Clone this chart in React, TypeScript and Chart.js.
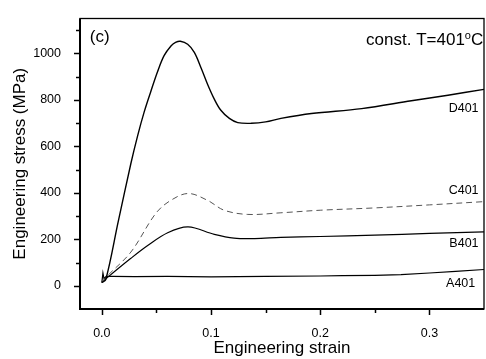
import { useEffect, useRef } from 'react';
import { Chart, registerables } from 'chart.js';

Chart.register(...registerables);

// ---- data ----
const dStrain = [0, 0.0037, 0.015, 0.0266, 0.0327, 0.0388, 0.045, 0.051, 0.057, 0.0633, 0.0675, 0.0719, 0.0786, 0.0847, 0.091, 0.097, 0.103, 0.109, 0.1168, 0.1245, 0.137, 0.15, 0.164, 0.192, 0.238, 0.2835, 0.317, 0.35];
const dStress = [14, 28, 276, 526, 644, 748, 838, 921, 990, 1032, 1047, 1052, 1039, 1004, 936, 865, 803, 755, 720, 702, 699, 705, 720, 741, 762, 796, 820, 845];

const cStrain = [0, 0.005, 0.0266, 0.0495, 0.063, 0.0792, 0.097, 0.112, 0.1337, 0.164, 0.2, 0.25, 0.3, 0.35];
const cStress = [14, 42, 145, 312, 367, 397, 367, 325, 307, 314, 325, 335, 348, 362];

const bStrain = [0, 0.005, 0.0266, 0.042, 0.0603, 0.079, 0.103, 0.121, 0.14, 0.164, 0.2, 0.25, 0.3, 0.35];
const bStress = [14, 35, 118, 173, 228, 253, 221, 205, 203, 208, 212, 218, 225, 232];

const aStrain = [0, 0.001, 0.002, 0.004, 0.01, 0.03, 0.06, 0.1, 0.15, 0.2, 0.22, 0.25, 0.274, 0.3, 0.324, 0.35];
const aStress = [14, 55, 30, 40, 40, 39, 40, 38, 40, 42, 44, 45, 48, 55, 62, 70];

const xTickValues = [0, 0.1, 0.2, 0.3];
const xMinorTicks = [0.05, 0.15, 0.25];
const yTickValues = [0, 200, 400, 600, 800, 1000];
const yMinorTicks = [100, 300, 500, 700, 900, 1100];

const seriesNames = ['D401', 'C401', 'B401', 'A401'];
const labelStrain = [0.345, 0.345, 0.345, 0.342];
const labelStress = [748, 396, 166, -7];

const panelLabel = '(c)';
const conditionText = 'const. T=401';

const FONT = "'Liberation Sans', Arial, sans-serif";

const pts = (xs: number[], ys: number[]) => xs.map((x, i) => ({ x, y: ys[i] }));

const framePlugin = {
  id: 'frameAndText',
  afterDraw(chart: any) {
    const { ctx, chartArea: a, scales } = chart;
    const xs = scales.x;
    const ys = scales.y;
    ctx.save();
    ctx.strokeStyle = '#000';
    ctx.lineWidth = 1.3;
    ctx.strokeRect(a.left, a.top, a.right - a.left, a.bottom - a.top);
    ctx.lineWidth = 2;
    ctx.beginPath();
    ctx.moveTo(a.left, a.top);
    ctx.lineTo(a.left, a.bottom);
    ctx.lineTo(a.right, a.bottom);
    ctx.stroke();

    const seg = (x1: number, y1: number, x2: number, y2: number) => {
      ctx.beginPath();
      ctx.moveTo(x1, y1);
      ctx.lineTo(x2, y2);
      ctx.stroke();
    };
    ctx.lineWidth = 1.5;
    xTickValues.forEach((v) => {
      const px = Math.round(xs.getPixelForValue(v)) + 0.5;
      seg(px, a.bottom, px, a.bottom + 6);
    });
    xMinorTicks.forEach((v) => {
      const px = Math.round(xs.getPixelForValue(v)) + 0.5;
      seg(px, a.bottom, px, a.bottom + 4);
    });
    yTickValues.forEach((v) => {
      const py = Math.round(ys.getPixelForValue(v)) + 0.5;
      seg(a.left, py, a.left - 6, py);
    });
    yMinorTicks.forEach((v) => {
      const py = Math.round(ys.getPixelForValue(v)) + 0.5;
      seg(a.left, py, a.left - 4, py);
    });

    // series labels
    ctx.fillStyle = '#000';
    ctx.font = `12.5px ${FONT}`;
    ctx.textAlign = 'right';
    ctx.textBaseline = 'alphabetic';
    seriesNames.forEach((n, i) => {
      ctx.fillText(n, xs.getPixelForValue(labelStrain[i]), ys.getPixelForValue(labelStress[i]));
    });

    // panel label
    ctx.font = `17px ${FONT}`;
    ctx.textAlign = 'left';
    ctx.fillText(panelLabel, xs.getPixelForValue(-0.011), ys.getPixelForValue(1047));

    // condition text with superscript o
    const rightX = xs.getPixelForValue(0.3493);
    const baseY = ys.getPixelForValue(1034);
    ctx.font = `17px ${FONT}`;
    const wC = ctx.measureText('C').width;
    ctx.fillText('C', rightX - wC, baseY);
    ctx.font = `11px ${FONT}`;
    const wO = ctx.measureText('o').width;
    ctx.fillText('o', rightX - wC - wO, baseY - 6.5);
    ctx.font = `17px ${FONT}`;
    ctx.textAlign = 'right';
    ctx.fillText(conditionText, rightX - wC - wO, baseY);
    ctx.restore();
  },
};

export default function App() {
  const ref = useRef<HTMLCanvasElement | null>(null);
  useEffect(() => {
    if (!ref.current) return;
    Chart.defaults.font.family = FONT;
    const chart = new Chart(ref.current, {
      type: 'scatter',
      data: {
        datasets: [
          { label: seriesNames[0], data: pts(dStrain, dStress), showLine: true, borderColor: '#000', borderWidth: 1.4, pointRadius: 0, tension: 0.35 },
          { label: seriesNames[1], data: pts(cStrain, cStress), showLine: true, borderColor: '#555', borderWidth: 1, borderDash: [6, 4], pointRadius: 0, tension: 0.35 },
          { label: seriesNames[2], data: pts(bStrain, bStress), showLine: true, borderColor: '#000', borderWidth: 1.2, pointRadius: 0, tension: 0.35 },
          { label: seriesNames[3], data: pts(aStrain, aStress), showLine: true, borderColor: '#000', borderWidth: 1.2, pointRadius: 0, tension: 0 },
        ],
      } as any,
      options: {
        animation: false,
        responsive: false,
        events: [],
        layout: { padding: { top: 9, right: 2, left: 0, bottom: 0 } },
        plugins: { legend: { display: false }, tooltip: { enabled: false } },
        scales: {
          x: {
            type: 'linear',
            min: -0.02,
            max: 0.35,
            grid: { display: false },
            border: { display: false },
            afterBuildTicks: (s: any) => { s.ticks = xTickValues.map((v) => ({ value: v })); },
            afterFit: (s: any) => { s.height = 50; },
            ticks: { color: '#000', font: { size: 12.5 }, padding: 9, maxRotation: 0, callback: (v: any) => Number(v).toFixed(1) },
            title: { display: true, text: 'Engineering strain', color: '#000', font: { size: 17, lineHeight: 1 }, padding: { top: 0, bottom: 2.5 } },
          },
          y: {
            type: 'linear',
            min: -100,
            max: 1150,
            grid: { display: false },
            border: { display: false },
            afterBuildTicks: (s: any) => { s.ticks = yTickValues.map((v) => ({ value: v })); },
            afterFit: (s: any) => { s.width = 80; },
            ticks: { color: '#000', font: { size: 12.5 }, padding: 11, callback: (v: any) => String(v) },
            title: { display: true, text: 'Engineering stress (MPa)', color: '#000', font: { size: 17, lineHeight: 1 }, padding: { top: 11.5, bottom: 0 } },
          },
        },
      } as any,
      plugins: [framePlugin],
    });
    return () => chart.destroy();
  }, []);
  return (
    <div style={{ position: 'absolute', left: 0, top: 0, width: 486, height: 359, background: '#fff' }}>
      <canvas ref={ref} width={486} height={359} style={{ width: 486, height: 359, display: 'block' }} />
    </div>
  );
}
